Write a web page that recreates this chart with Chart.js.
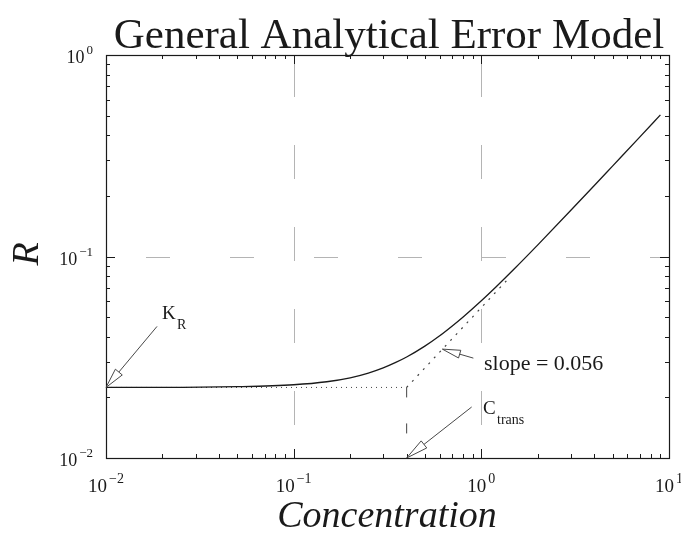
<!DOCTYPE html>
<html>
<head>
<meta charset="utf-8">
<script src="https://cdn.jsdelivr.net/npm/chart.js@4/dist/chart.umd.min.js"></script>
<style>
  body { margin: 0; background: #fff; }
  canvas { display: block; }
</style>
</head>
<body>
<canvas id="errorChart" width="681" height="547"></canvas>
<script>
// values
const concentration = [0.01, 0.02, 0.05, 0.1, 0.15, 0.2, 0.25, 0.3, 0.35, 0.4, 0.5, 0.6, 0.7, 0.8, 1, 1.2, 1.5, 2, 3, 4, 5, 7, 9];
const rValues = [0.0224, 0.0224, 0.0226, 0.0231, 0.0239, 0.0250, 0.0264, 0.0280, 0.0298, 0.0317, 0.0359, 0.0404, 0.0452, 0.0501, 0.0603, 0.0708, 0.0869, 0.1142, 0.1695, 0.2251, 0.2809, 0.3923, 0.5045];

const kR = 0.0224;
const cTrans = 0.4;
const slopeX = [0.4, 1.4];
const slopeR = [0.0224, 0.078];

const xDecades = [0.01, 0.1, 1, 10];
const yDecades = [0.01, 0.1, 1];
const xTickExp = ['\u22122', '\u22121', '0', '1'];
const yTickExp = ['\u22122', '\u22121', '0'];

const INK = '#1a1a1a';
const SERIF = '"Liberation Serif", "DejaVu Serif", serif';

function toPoints(xs, ys) {
    return xs.map((x, i) => ({ x: x, y: ys[i] }));
}

function drawArrow(ctx, x1, y1, x2, y2, len, half) {
    const ang = Math.atan2(y2 - y1, x2 - x1);
    const bx = x2 - len * Math.cos(ang);
    const by = y2 - len * Math.sin(ang);
    const px = -Math.sin(ang) * half;
    const py = Math.cos(ang) * half;
    ctx.beginPath();
    ctx.moveTo(x1, y1);
    ctx.lineTo(bx, by);
    ctx.stroke();
    ctx.beginPath();
    ctx.moveTo(x2, y2);
    ctx.lineTo(bx + px, by + py);
    ctx.lineTo(bx - px, by - py);
    ctx.closePath();
    ctx.fillStyle = '#fff';
    ctx.fill();
    ctx.stroke();
}

function drawPower(ctx, x, y, exp, size, align) {
    const supSize = Math.round(size * 0.74);
    ctx.font = size + 'px ' + SERIF;
    const baseW = ctx.measureText('10').width;
    ctx.font = supSize + 'px ' + SERIF;
    const expW = ctx.measureText(exp).width;
    const total = baseW + 2 + expW;
    let left = x - total / 2;
    if (align === 'right') left = x - total;
    ctx.textAlign = 'left';
    ctx.textBaseline = 'alphabetic';
    ctx.font = size + 'px ' + SERIF;
    ctx.fillText('10', left, y);
    ctx.font = supSize + 'px ' + SERIF;
    ctx.fillText(exp, left + baseW + 2, y - size * 0.48);
}

const gridPlugin = {
    id: 'gridPlugin',
    beforeDatasetsDraw(chart) {
        const { ctx, chartArea: a, scales } = chart;
        ctx.save();
        ctx.strokeStyle = '#b4b4b4';
        ctx.lineWidth = 1;
        ctx.setLineDash([34, 48]);
        [0.1, 1].forEach(v => {
            const x = Math.round(scales.x.getPixelForValue(v)) + 0.5;
            ctx.beginPath();
            ctx.moveTo(x, a.top + 8);
            ctx.lineTo(x, a.bottom);
            ctx.stroke();
        });
        ctx.setLineDash([24, 60]);
        const y = Math.round(scales.y.getPixelForValue(0.1)) + 0.5;
        ctx.beginPath();
        ctx.moveTo(a.left + 40, y);
        ctx.lineTo(a.right, y);
        ctx.stroke();
        ctx.restore();
    }
};

const framePlugin = {
    id: 'framePlugin',
    afterDraw(chart) {
        const { ctx, chartArea: a, scales } = chart;
        const sx = scales.x, sy = scales.y;
        ctx.save();
        ctx.strokeStyle = INK;
        ctx.lineWidth = 1.2;
        ctx.strokeRect(a.left + 0.5, a.top + 0.5, a.right - a.left, a.bottom - a.top);

        // ticks, pointing inward
        ctx.lineWidth = 1;
        for (let d = 0.01; d < 10; d *= 10) {
            for (let m = 1; m <= 10; m++) {
                const v = d * m;
                const len = (m === 1 || m === 10) ? 9 : 4;
                const x = Math.round(sx.getPixelForValue(v)) + 0.5;
                ctx.beginPath();
                ctx.moveTo(x, a.bottom); ctx.lineTo(x, a.bottom - len);
                ctx.moveTo(x, a.top); ctx.lineTo(x, a.top + len);
                ctx.stroke();
            }
        }
        for (let d = 0.01; d < 1; d *= 10) {
            for (let m = 1; m <= 10; m++) {
                const v = d * m;
                const len = (m === 1 || m === 10) ? 9 : 4;
                const y = Math.round(sy.getPixelForValue(v)) + 0.5;
                ctx.beginPath();
                ctx.moveTo(a.left, y); ctx.lineTo(a.left + len, y);
                ctx.moveTo(a.right, y); ctx.lineTo(a.right - len, y);
                ctx.stroke();
            }
        }

        // tick labels
        ctx.fillStyle = INK;
        xDecades.forEach((v, i) => {
            drawPower(ctx, sx.getPixelForValue(v), a.bottom + 34, xTickExp[i], 19, 'center');
        });
        yDecades.forEach((v, i) => {
            drawPower(ctx, a.left - 13, sy.getPixelForValue(v) + 8, yTickExp[i], 18, 'right');
        });

        // title and axis titles
        ctx.textAlign = 'center';
        ctx.textBaseline = 'alphabetic';
        ctx.font = '43px ' + SERIF;
        ctx.fillText('General Analytical Error Model', 389, 48);
        ctx.font = 'italic 38px ' + SERIF;
        ctx.fillText('Concentration', 387, 527);
        ctx.save();
        ctx.translate(38, 254);
        ctx.rotate(-Math.PI / 2);
        ctx.fillText('R', 0, 0);
        ctx.restore();

        // annotations
        ctx.strokeStyle = '#333';
        ctx.lineWidth = 0.9;
        const kx = sx.getPixelForValue(0.01), ky = sy.getPixelForValue(kR);
        drawArrow(ctx, kx + 51, ky - 61, kx, ky, 20, 4.5);
        const tx = sx.getPixelForValue(cTrans), ty = sy.getPixelForValue(0.01);
        drawArrow(ctx, tx + 65, ty - 51, tx, ty, 22, 4.5);
        const slx = sx.getPixelForValue(0.62), sly = sy.getPixelForValue(0.0347);
        drawArrow(ctx, slx + 31, sly + 9, slx, sly, 18, 4);

        ctx.fillStyle = INK;
        ctx.textAlign = 'left';
        ctx.font = '19px ' + SERIF;
        ctx.fillText('K', 162, 319);
        ctx.fillText('C', 483, 414);
        ctx.font = '14px ' + SERIF;
        ctx.fillText('R', 177, 329);
        ctx.fillText('trans', 497, 424);
        ctx.font = '22px ' + SERIF;
        ctx.fillText('slope = 0.056', 484, 370);
        ctx.restore();
    }
};

new Chart(document.getElementById('errorChart'), {
    type: 'scatter',
    data: {
        datasets: [
            {
                label: 'R',
                data: toPoints(concentration, rValues),
                showLine: true,
                borderColor: INK,
                borderWidth: 1.3,
                pointRadius: 0,
                cubicInterpolationMode: 'monotone'
            },
            {
                label: 'K_R level',
                data: toPoints([0.01, cTrans], [kR, kR]),
                showLine: true,
                borderColor: '#444',
                borderWidth: 1,
                borderDash: [1, 4],
                pointRadius: 0
            },
            {
                label: 'slope',
                data: toPoints(slopeX, slopeR),
                showLine: true,
                borderColor: '#444',
                borderWidth: 1.2,
                borderDash: [2, 6],
                pointRadius: 0
            },
            {
                label: 'C_trans',
                data: toPoints([cTrans, cTrans], [kR, 0.01]),
                showLine: true,
                borderColor: '#444',
                borderWidth: 1,
                borderDash: [10, 26],
                pointRadius: 0
            }
        ]
    },
    options: {
        responsive: false,
        animation: false,
        layout: { padding: { left: 106, right: 12, top: 55, bottom: 89 } },
        plugins: {
            legend: { display: false },
            tooltip: { enabled: false },
            title: { display: false }
        },
        scales: {
            x: { type: 'logarithmic', min: 0.01, max: 10, display: false },
            y: { type: 'logarithmic', min: 0.01, max: 1, display: false }
        }
    },
    plugins: [gridPlugin, framePlugin]
});
</script>
</body>
</html>
